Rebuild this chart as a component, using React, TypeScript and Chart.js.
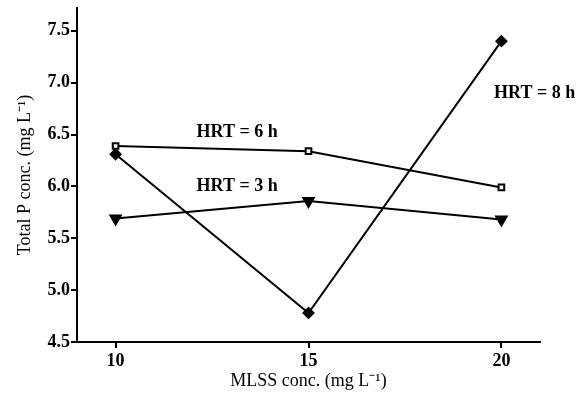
import React, { useEffect, useRef } from "react";
import { Chart, registerables } from "chart.js";

Chart.register(...registerables);

// MLSS concentration (mg L⁻¹) on the x axis
const mlss = [10, 15, 20];
// Total P concentration (mg L⁻¹) for each hydraulic retention time
const hrt6 = [6.39, 6.34, 5.99];
const hrt8 = [6.31, 4.78, 7.4];
const hrt3 = [5.69, 5.86, 5.68];

const xTicks = [10, 15, 20];
const yTicks = [4.5, 5.0, 5.5, 6.0, 6.5, 7.0, 7.5];

// in-plot series labels: [text, x, y] in data units
const seriesLabels: [string, number, number][] = [
  ["HRT = 6 h", 13.15, 6.52],
  ["HRT = 3 h", 13.15, 6.0],
  ["HRT = 8 h", 20.86, 6.9],
];

const SERIF = "'Liberation Serif', 'Times New Roman', serif";

const labelPlugin = {
  id: "seriesLabels",
  afterDatasetsDraw(chart: any) {
    const { ctx, scales } = chart;
    ctx.save();
    ctx.font = `bold 18px ${SERIF}`;
    ctx.fillStyle = "#000";
    ctx.textAlign = "center";
    ctx.textBaseline = "middle";
    for (const [t, x, y] of seriesLabels) {
      ctx.fillText(t, scales.x.getPixelForValue(x), scales.y.getPixelForValue(y));
    }
    ctx.restore();
  },
};

export default function App() {
  const ref = useRef<HTMLCanvasElement>(null);

  useEffect(() => {
    if (!ref.current) return;
    const pts = (ys: number[]) => mlss.map((x, i) => ({ x, y: ys[i] }));
    const chart = new Chart(ref.current, {
      type: "line",
      data: {
        datasets: [
          {
            label: "HRT = 6 h",
            data: pts(hrt6),
            borderColor: "#000",
            borderWidth: 2,
            pointStyle: "rect",
            pointRadius: 4,
            pointBorderWidth: 2,
            pointBackgroundColor: "#fff",
            pointBorderColor: "#000",
          },
          {
            label: "HRT = 8 h",
            data: pts(hrt8),
            borderColor: "#000",
            borderWidth: 2,
            pointStyle: "rectRot",
            pointRadius: 5,
            pointBackgroundColor: "#000",
            pointBorderColor: "#000",
          },
          {
            label: "HRT = 3 h",
            data: pts(hrt3),
            borderColor: "#000",
            borderWidth: 2,
            pointStyle: "triangle",
            pointRotation: 180,
            pointRadius: 6,
            pointBackgroundColor: "#000",
            pointBorderColor: "#000",
          },
        ],
      },
      options: {
        animation: false,
        responsive: false,
        layout: { padding: { top: 5, right: 37, left: 0, bottom: 0 } },
        plugins: { legend: { display: false }, tooltip: { enabled: false } },
        scales: {
          x: {
            type: "linear",
            min: 9,
            max: 21,
            afterBuildTicks: (s: any) => {
              s.ticks = xTicks.map((v) => ({ value: v }));
            },
            afterFit: (s: any) => {
              s.height = 65;
              s.paddingLeft = 0;
              s.paddingRight = 0;
            },
            grid: { drawOnChartArea: false, drawTicks: true, tickLength: 6, color: "#000", lineWidth: 2 },
            border: { display: true, color: "#000", width: 2 },
            ticks: { color: "#000", font: { family: SERIF, size: 18, weight: "bold" }, padding: 3 },
            title: {
              display: true,
              text: "MLSS conc. (mg L⁻¹)",
              color: "#000",
              font: { family: SERIF, size: 18 },
              padding: { top: 4, bottom: 15 },
            },
          },
          y: {
            min: 4.5,
            max: 7.72,
            afterBuildTicks: (s: any) => {
              s.ticks = yTicks.map((v) => ({ value: v }));
            },
            afterFit: (s: any) => {
              s.width = 77;
              s.paddingTop = 0;
              s.paddingBottom = 0;
            },
            grid: { drawOnChartArea: false, drawTicks: true, tickLength: 6, color: "#000", lineWidth: 2 },
            border: { display: true, color: "#000", width: 2 },
            ticks: {
              color: "#000",
              font: { family: SERIF, size: 18, weight: "bold" },
              padding: 1,
              callback: (v: any) => Number(v).toFixed(1),
            },
            title: {
              display: true,
              text: "Total P conc. (mg L⁻¹)",
              color: "#000",
              font: { family: SERIF, size: 18 },
              padding: { top: 14, bottom: 2 },
            },
          },
        },
      },
      plugins: [labelPlugin],
    });
    return () => chart.destroy();
  }, []);

  return (
    <div style={{ position: "fixed", left: 0, top: 0, width: 577, height: 407, background: "#fff" }}>
      <canvas ref={ref} width={577} height={407} style={{ display: "block" }} />
    </div>
  );
}
